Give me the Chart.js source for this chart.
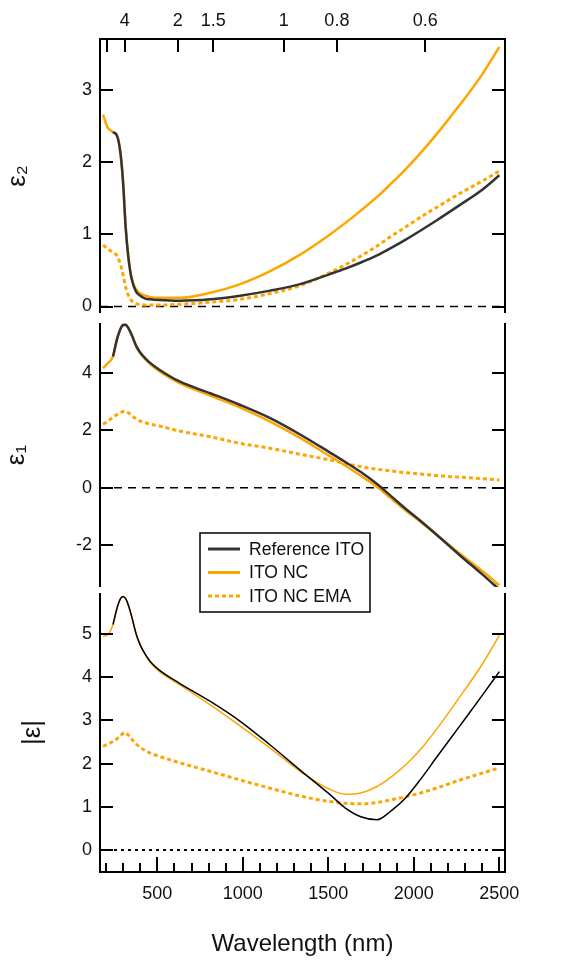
<!DOCTYPE html>
<html>
<head>
<meta charset="utf-8">
<script src="https://cdn.jsdelivr.net/npm/chart.js@4.4.1/dist/chart.umd.min.js"></script>
<style>
  body { margin: 0; background: #fff; }
  #wrap { position: relative; width: 579px; height: 960px; }
  canvas { position: absolute; left: 0; }
</style>
</head>
<body>
<div id="wrap">
  <canvas id="absCanvas" width="579" height="370" style="top:590px"></canvas>
  <canvas id="eps1Canvas" width="579" height="300" style="top:318px"></canvas>
  <canvas id="eps2Canvas" width="579" height="318" style="top:0px"></canvas>
</div>
<script>
// wavelength grid (nm) shared by every series
const wavelength = [183, 210, 241, 266, 285, 300, 315, 330, 350, 375, 400, 430, 460, 510, 630, 810, 985, 1160, 1335, 1510, 1600, 1690, 1785, 1865, 1950, 2040, 2130, 2270, 2400, 2500];

// epsilon 2 (top panel)
const eps2Ref = [null, null, 2.42, 2.36, 2.12, 1.72, 1.10, 0.70, 0.38, 0.21, 0.15, 0.11, 0.10, 0.09, 0.08, 0.10, 0.15, 0.22, 0.31, 0.45, 0.525, 0.61, 0.71, 0.81, 0.925, 1.055, 1.19, 1.41, 1.62, 1.82];
const eps2Nc = [2.66, 2.48, 2.42, 2.36, 2.12, 1.72, 1.10, 0.71, 0.40, 0.24, 0.18, 0.15, 0.13, 0.12, 0.12, 0.19, 0.31, 0.49, 0.72, 1.00, 1.16, 1.33, 1.52, 1.70, 1.90, 2.13, 2.38, 2.80, 3.22, 3.60];
const eps2Ema = [0.85, 0.80, 0.75, 0.70, 0.58, 0.44, 0.27, 0.16, 0.08, 0.04, 0.03, 0.02, 0.02, 0.02, 0.03, 0.06, 0.10, 0.18, 0.29, 0.47, 0.58, 0.70, 0.84, 0.97, 1.10, 1.24, 1.37, 1.57, 1.74, 1.88];

// epsilon 1 (middle panel)
const eps1Ref = [null, null, 4.58, 5.22, 5.55, 5.68, 5.69, 5.58, 5.34, 4.97, 4.72, 4.52, 4.35, 4.13, 3.71, 3.30, 2.89, 2.43, 1.86, 1.23, 0.90, 0.55, 0.13, -0.28, -0.72, -1.16, -1.62, -2.36, -3.02, -3.55];
const eps1Nc = [4.17, 4.35, 4.58, 5.22, 5.55, 5.68, 5.69, 5.58, 5.34, 4.97, 4.70, 4.49, 4.31, 4.08, 3.65, 3.22, 2.80, 2.31, 1.74, 1.10, 0.77, 0.42, 0.03, -0.36, -0.78, -1.19, -1.62, -2.30, -2.90, -3.40];
const eps1Ema = [2.22, 2.32, 2.46, 2.56, 2.62, 2.66, 2.67, 2.62, 2.52, 2.41, 2.33, 2.27, 2.22, 2.16, 1.98, 1.78, 1.55, 1.38, 1.17, 0.97, 0.85, 0.74, 0.65, 0.59, 0.53, 0.48, 0.43, 0.37, 0.32, 0.27];

// |epsilon| (bottom panel)
const absRef = [null, null, 5.22, 5.62, 5.82, 5.87, 5.82, 5.68, 5.41, 5.02, 4.75, 4.53, 4.36, 4.17, 3.86, 3.44, 2.98, 2.43, 1.85, 1.28, 0.97, 0.77, 0.70, 0.90, 1.20, 1.64, 2.13, 2.88, 3.58, 4.13];
const absNc = [4.95, 4.98, 5.22, 5.62, 5.82, 5.87, 5.82, 5.68, 5.41, 5.02, 4.74, 4.52, 4.34, 4.14, 3.83, 3.36, 2.87, 2.36, 1.82, 1.40, 1.29, 1.32, 1.47, 1.68, 1.96, 2.33, 2.78, 3.55, 4.30, 4.97];
const absEma = [2.40, 2.45, 2.51, 2.58, 2.65, 2.70, 2.72, 2.66, 2.57, 2.46, 2.38, 2.30, 2.24, 2.17, 2.02, 1.82, 1.62, 1.43, 1.25, 1.12, 1.08, 1.07, 1.10, 1.16, 1.23, 1.32, 1.43, 1.62, 1.78, 1.90];

// axis ticks: photon energy on top (eV), wavelength at the bottom (nm)
const evTicks = [6, 4, 2, 1.5, 1, 0.8, 0.6];
const evLabels = ["", "4", "2", "1.5", "1", "0.8", "0.6"];
const nmTicks = [500, 1000, 1500, 2000, 2500];
const seriesNames = ["Reference ITO", "ITO NC", "ITO NC EMA"];

const X_MIN = 165;
const X_MAX = 2533;
const ORANGE = "#FFA500";

Chart.defaults.font.family = "'Liberation Sans', Arial, sans-serif";
Chart.defaults.font.size = 18;
Chart.defaults.color = "#111";

const pts = (vals) => wavelength.map((w, i) => ({ x: w, y: vals[i] }));

function datasets(ref, nc, ema, thin) {
  return [
    { label: seriesNames[0], data: pts(ref), borderColor: thin ? "#000" : "#333", borderWidth: thin ? 1.5 : 2.5 },
    { label: seriesNames[1], data: pts(nc), borderColor: ORANGE, borderWidth: thin ? 1.5 : 2.5 },
    { label: seriesNames[2], data: pts(ema), borderColor: ORANGE, borderWidth: 3, borderDash: [4, 3] },
    {
      label: "zero",
      data: [{ x: X_MIN, y: 0 }, { x: X_MAX, y: 0 }],
      borderColor: "#000",
      borderWidth: thin ? 2 : 1.5,
      borderDash: thin ? [3, 4] : [8, 6]
    }
  ];
}

// axis lines and inward tick marks
const frame = {
  id: "frame",
  afterDraw(chart, args, opt) {
    const ctx = chart.ctx;
    const a = chart.chartArea;
    const y = chart.scales.y;
    ctx.save();
    ctx.strokeStyle = "#000";
    ctx.lineWidth = 2;
    ctx.beginPath();
    ctx.moveTo(a.left, a.top);
    ctx.lineTo(a.left, a.bottom);
    ctx.moveTo(a.right, a.top);
    ctx.lineTo(a.right, a.bottom);
    if (opt.top) {
      ctx.moveTo(a.left - 1, a.top);
      ctx.lineTo(a.right + 1, a.top);
      const xe = chart.scales.xe;
      xe.ticks.forEach((t) => {
        const p = Math.round(xe.getPixelForValue(t.value));
        ctx.moveTo(p, a.top);
        ctx.lineTo(p, a.top + 13);
      });
    }
    if (opt.bottom) {
      ctx.moveTo(a.left - 1, a.bottom);
      ctx.lineTo(a.right + 1, a.bottom);
      const x = chart.scales.x;
      for (let v = 200; v <= 2500; v += 100) {
        const p = Math.round(x.getPixelForValue(v));
        ctx.moveTo(p, a.bottom);
        ctx.lineTo(p, a.bottom - (v % 500 === 0 ? 15 : 9));
      }
    }
    y.ticks.forEach((t) => {
      const p = Math.round(y.getPixelForValue(t.value));
      ctx.moveTo(a.left, p);
      ctx.lineTo(a.left + 13, p);
      ctx.moveTo(a.right, p);
      ctx.lineTo(a.right - 13, p);
    });
    ctx.stroke();
    ctx.restore();
  }
};

// boxed legend that sits over the middle / bottom panels
const boxLegend = {
  id: "boxLegend",
  afterDraw(chart, args, opt) {
    if (!opt.show) return;
    const ctx = chart.ctx;
    ctx.save();
    ctx.fillStyle = "#fff";
    ctx.fillRect(opt.x, opt.y, opt.w, opt.h);
    ctx.strokeStyle = "#000";
    ctx.lineWidth = 1.5;
    ctx.strokeRect(opt.x, opt.y, opt.w, opt.h);
    ctx.font = "17.6px 'Liberation Sans', Arial, sans-serif";
    ctx.textBaseline = "middle";
    chart.data.datasets.slice(0, 3).forEach((ds, i) => {
      const ry = opt.y + 16 + i * 23.5;
      ctx.beginPath();
      ctx.strokeStyle = ds.borderColor;
      ctx.lineWidth = 3;
      ctx.setLineDash(ds.borderDash || []);
      ctx.moveTo(opt.x + 8, ry);
      ctx.lineTo(opt.x + 40, ry);
      ctx.stroke();
      ctx.setLineDash([]);
      ctx.fillStyle = "#111";
      ctx.fillText(ds.label, opt.x + 49, ry + 1);
    });
    ctx.restore();
  }
};

function yScale(min, max, step, title, titlePad) {
  return {
    type: "linear",
    min: min,
    max: max,
    grid: { display: false, drawTicks: false },
    border: { display: false },
    ticks: { stepSize: step, includeBounds: false, padding: 8 },
    title: { display: true, text: title, font: { size: 26 }, padding: { top: titlePad, bottom: 0 } },
    afterFit: (s) => {
      s.width = 100;
      // labels may overhang the plot ends, keep the plot box fixed
      s.paddingTop = 0;
      s.paddingBottom = 0;
    }
  };
}

function baseOptions(padding) {
  return {
    responsive: false,
    animation: false,
    layout: { padding: padding },
    elements: {
      point: { radius: 0 },
      line: { cubicInterpolationMode: "monotone", borderCapStyle: "butt" }
    },
    plugins: { legend: { display: false }, tooltip: { enabled: false } }
  };
}

// top panel: epsilon 2 with eV axis on top
const optTop = baseOptions({ left: 0, right: 74, top: 0, bottom: 5 });
optTop.scales = {
  x: { type: "linear", min: X_MIN, max: X_MAX, display: false },
  xe: {
    type: "linear",
    position: "top",
    min: X_MIN,
    max: X_MAX,
    grid: { display: false, drawTicks: false },
    border: { display: false },
    afterBuildTicks: (s) => { s.ticks = evTicks.map((e) => ({ value: 1240 / e })); },
    ticks: { autoSkip: false, maxRotation: 0, padding: 7, callback: (v, i) => evLabels[i] },
    afterFit: (s) => { s.height = 39; }
  },
  y: yScale(-0.09, 3.71, 1, "ε₂", 2)
};
optTop.plugins.frame = { top: true };
new Chart(document.getElementById("eps2Canvas"), {
  type: "line",
  data: { datasets: datasets(eps2Ref, eps2Nc, eps2Ema, false) },
  options: optTop,
  plugins: [frame]
});

// middle panel: epsilon 1 plus legend
const optMid = baseOptions({ left: 0, right: 74, top: 5, bottom: 31 });
optMid.scales = {
  x: { type: "linear", min: X_MIN, max: X_MAX, display: false },
  y: yScale(-3.46, 5.75, 2, "ε₁", 1)
};
optMid.plugins.frame = {};
optMid.plugins.boxLegend = { show: true, x: 200, y: 215, w: 170, h: 79 };
new Chart(document.getElementById("eps1Canvas"), {
  type: "line",
  data: { datasets: datasets(eps1Ref, eps1Nc, eps1Ema, false) },
  options: optMid,
  plugins: [frame, boxLegend]
});

// bottom panel: |epsilon| with wavelength axis
const optBot = baseOptions({ left: 0, right: 74, top: 3, bottom: 0 });
optBot.scales = {
  x: {
    type: "linear",
    position: "bottom",
    min: X_MIN,
    max: X_MAX,
    grid: { display: false, drawTicks: false },
    border: { display: false },
    afterBuildTicks: (s) => { s.ticks = nmTicks.map((v) => ({ value: v })); },
    ticks: { autoSkip: false, maxRotation: 0, padding: 11, callback: (v) => String(v) },
    title: { display: true, text: "Wavelength (nm)", font: { size: 24 }, padding: { top: 0, bottom: 1 } },
    afterFit: (s) => { s.height = 88; }
  },
  y: yScale(-0.51, 5.95, 1, "|ε|", 17)
};
optBot.plugins.frame = { bottom: true };
new Chart(document.getElementById("absCanvas"), {
  type: "line",
  data: { datasets: datasets(absRef, absNc, absEma, true) },
  options: optBot,
  plugins: [frame]
});
</script>
</body>
</html>
